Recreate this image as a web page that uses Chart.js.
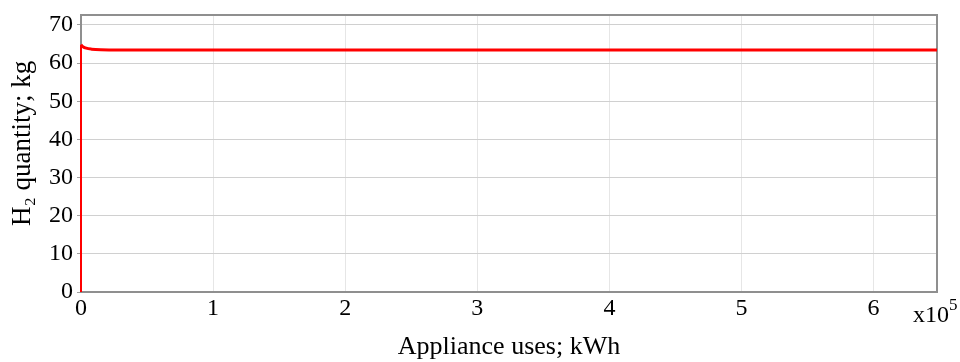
<!DOCTYPE html>
<html>
<head>
<meta charset="utf-8">
<script src="https://cdn.jsdelivr.net/npm/chart.js@4.4.0/dist/chart.umd.min.js"></script>
<style>
  html, body { margin: 0; padding: 0; background: #fff; }
  canvas { display: block; }
</style>
</head>
<body>
<canvas id="grafico" width="960" height="362"></canvas>
<script>
// datos
const usosInicio = [0, 0];            // tramo vertical en x = 0
const h2Inicio = [0, 64.8];
const usos = [0, 1500, 4000, 8000, 15000, 30000, 648000];   // kWh
const h2 = [64.8, 64.3, 63.9, 63.65, 63.5, 63.45, 63.45];     // kg
const ticksX = [0, 1, 2, 3, 4, 5, 6];   // x10^5
const ticksY = [0, 10, 20, 30, 40, 50, 60, 70];

const fuente = 'Liberation Serif, Times New Roman, serif';

const toPoints = (xs, ys) => xs.map((x, i) => ({ x: x, y: ys[i] }));

// marco gris alrededor del area y exponente del eje x
const marcoPlugin = {
  id: 'marco',
  beforeDatasetsDraw(chart) {
    const { ctx, chartArea: a } = chart;
    ctx.save();
    ctx.strokeStyle = '#8f8f8f';
    ctx.lineWidth = 2;
    ctx.strokeRect(a.left, a.top, a.right - a.left, a.bottom - a.top);
    ctx.restore();
  },
  afterDraw(chart) {
    const { ctx, chartArea: a } = chart;
    ctx.save();
    ctx.fillStyle = '#000';
    ctx.textBaseline = 'alphabetic';
    ctx.font = '24px ' + fuente;
    ctx.fillText('x10', a.right - 24, a.bottom + 30);
    ctx.font = '17px ' + fuente;
    ctx.fillText('5', a.right + 12, a.bottom + 18);
    ctx.restore();
  }
};

new Chart(document.getElementById('grafico'), {
  type: 'line',
  data: {
    datasets: [
      {
        data: toPoints(usos, h2),
        borderColor: '#ff0000',
        borderWidth: 3,
        pointRadius: 0,
        cubicInterpolationMode: 'monotone'
      },
      {
        data: toPoints(usosInicio, h2Inicio),
        borderColor: '#ff0000',
        borderWidth: 2,
        pointRadius: 0,
        clip: false
      }
    ]
  },
  plugins: [marcoPlugin],
  options: {
    responsive: false,
    animation: false,
    layout: { padding: { top: 15, right: 23, left: 0, bottom: 0 } },
    plugins: {
      legend: { display: false },
      tooltip: { enabled: false }
    },
    scales: {
      x: {
        type: 'linear',
        min: 0,
        max: 648000,
        afterBuildTicks: s => { s.ticks = ticksX.map(v => ({ value: v * 1e5 })); },
        afterFit: s => { s.height = 70; s.paddingLeft = 0; s.paddingRight = 0; },
        ticks: {
          callback: v => String(v / 1e5),
          color: '#000',
          font: { family: fuente, size: 24 },
          padding: 2,
          maxRotation: 0
        },
        grid: { color: '#e6e6e6', drawTicks: false },
        border: { display: false },
        title: {
          display: true,
          text: 'Appliance uses; kWh',
          color: '#000',
          font: { family: fuente, size: 26 },
          padding: { top: 0, bottom: -1 }
        }
      },
      y: {
        min: 0,
        max: 72.6,
        afterBuildTicks: s => { s.ticks = ticksY.map(v => ({ value: v })); },
        afterFit: s => { s.width = 81; s.paddingTop = 0; s.paddingBottom = 0; },
        ticks: {
          color: '#000',
          font: { family: fuente, size: 24 },
          padding: 4
        },
        grid: { color: '#d0d0d0', tickLength: 4, tickColor: '#a0a0a0' },
        border: { display: false },
        title: {
          display: true,
          text: '   H₂ quantity; kg',
          color: '#000',
          font: { family: fuente, size: 27 },
          padding: { top: 7, bottom: 0 }
        }
      }
    }
  }
});
</script>
</body>
</html>
